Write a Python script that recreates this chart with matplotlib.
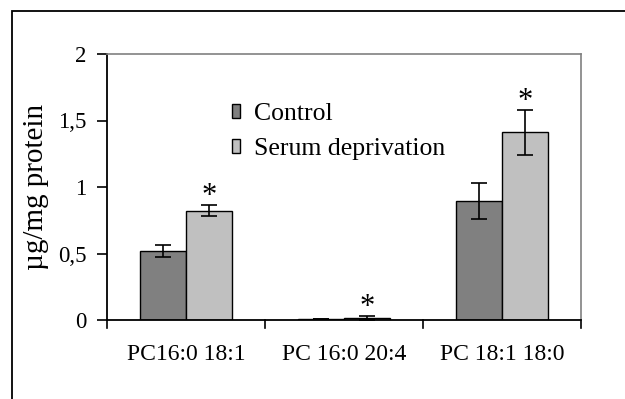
import numpy as np
import matplotlib.pyplot as plt
from matplotlib.patches import Rectangle

plt.rcParams['font.family'] = ['Liberation Serif', 'DejaVu Serif']

categories = ['PC16:0 18:1', 'PC 16:0 20:4', 'PC 18:1 18:0']
control = [0.52, 0.008, 0.895]
control_err = [0.047, 0.0, 0.136]
serum = [0.822, 0.015, 1.41]
serum_err = [0.04, 0.012, 0.167]
significant = [True, True, True]

fig = plt.figure(figsize=(6.25, 3.99), dpi=100)
ax = fig.add_axes([107 / 625, 1 - 320 / 399, 474 / 625, 266 / 399])

x = np.arange(len(categories))
w = 0.29
ekw = dict(elinewidth=1.2, capthick=1.2, ecolor='black')
ax.bar(x - w / 2, control, w, yerr=control_err, capsize=6, color='#808080',
       edgecolor='black', linewidth=1.0, label='Control', error_kw=ekw)
ax.bar(x + w / 2, serum, w, yerr=serum_err, capsize=6, color='#c0c0c0',
       edgecolor='black', linewidth=1.0, label='Serum deprivation', error_kw=ekw)

for i in range(len(categories)):
    if significant[i]:
        ax.annotate('*', (x[i] + w / 2, serum[i] + serum_err[i]), xytext=(0, -4),
                    textcoords='offset points', ha='center', va='bottom', fontsize=22)

ax.set_xlim(-0.5, 2.5)
ax.set_ylim(0, 2)
ax.set_yticks([0, 0.5, 1, 1.5, 2])
ax.set_yticklabels(['0', '0,5', '1', '1,5', '2'])
ax.set_xticks(x)
ax.set_xticklabels(categories)
ax.tick_params(axis='x', length=0, labelsize=17, pad=17)
ax.tick_params(axis='y', length=7, width=1.2, labelsize=16.5, pad=8)
for b in [-0.5, 0.5, 1.5, 2.5]:
    ax.plot([b, b], [0, -0.06], color='black', lw=1.2, clip_on=False)
ax.spines['left'].set_linewidth(1.3)
ax.spines['bottom'].set_linewidth(1.3)
ax.spines['top'].set_color('#808080')
ax.spines['right'].set_color('#808080')
ax.spines['top'].set_linewidth(1.2)
ax.spines['right'].set_linewidth(1.2)
ax.set_ylabel('µg/mg protein', fontsize=21)
ax.yaxis.set_label_coords(-0.122, 0.5)

ax.legend(loc='upper left', bbox_to_anchor=(232 / 625, 1 - 103 / 399),
          bbox_transform=fig.transFigure, frameon=False, fontsize=18.5,
          handlelength=0.32, handleheight=0.47, handletextpad=0.55,
          labelspacing=0.5, borderpad=0, borderaxespad=0)

fig.patches.append(Rectangle((12 / 625, -0.1), 1.0, 1 - 11 / 399 + 0.1,
                             transform=fig.transFigure, fill=False,
                             edgecolor='black', linewidth=1.3))

fig.savefig('out.png', dpi=100)
